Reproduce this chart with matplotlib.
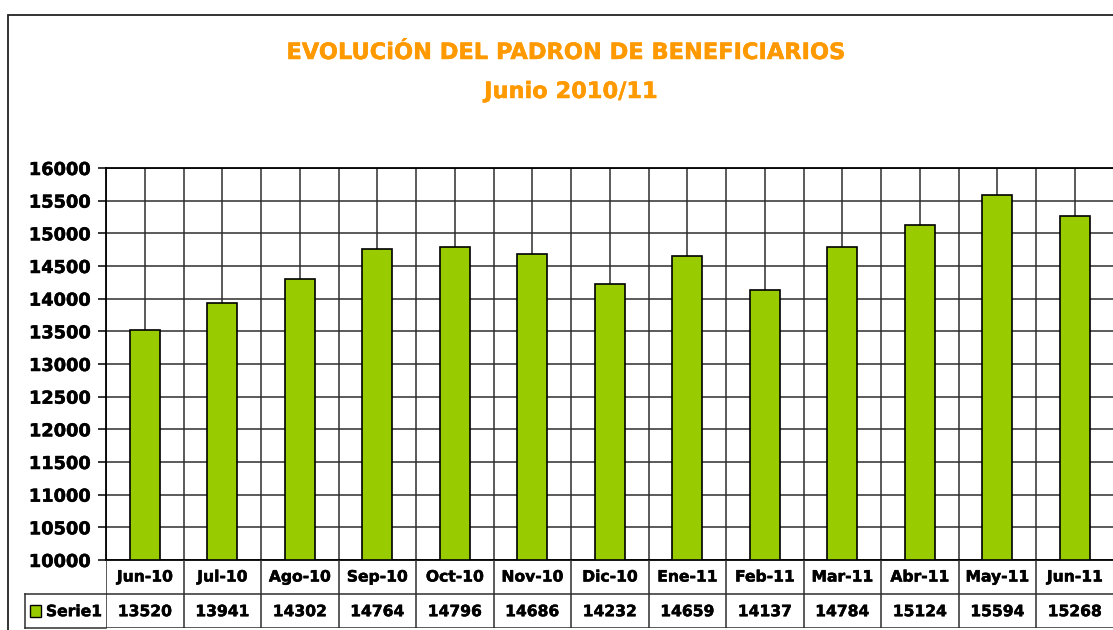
import numpy as np
import matplotlib
matplotlib.use("Agg")
import matplotlib.pyplot as plt
import matplotlib.patheffects as pe
from matplotlib.patches import Rectangle

# data
months = ["Jun-10", "Jul-10", "Ago-10", "Sep-10", "Oct-10", "Nov-10", "Dic-10",
          "Ene-11", "Feb-11", "Mar-11", "Abr-11", "May-11", "Jun-11"]
serie1 = [13520, 13941, 14302, 14764, 14796, 14686, 14232,
          14659, 14137, 14784, 15124, 15594, 15268]
yticks = list(range(10000, 16001, 500))

W, H = 1113, 630
BAR = "#99CC00"
ORANGE = "#FF9900"
GRID = "#2e2e2e"
FONT = "DejaVu Sans"

fig = plt.figure(figsize=(W / 100, H / 100), dpi=100)
fig.patch.set_facecolor("white")


def fx(px):
    return px / W


def fy(py):
    return 1 - py / H


def heavy(color):
    # thicken the bold glyphs a touch, the original looks close to Arial Black
    return [pe.withStroke(linewidth=0.35, foreground=color)]


# outer chart frame (cut off on the right and bottom in the original)
fig.patches.append(Rectangle((fx(8), -0.01), 1.2, fy(15) + 0.01, transform=fig.transFigure,
                             fill=False, edgecolor="#222222", lw=1.3))

fig.text(fx(567), fy(53), "EVOLUCiÓN DEL PADRON DE BENEFICIARIOS", color=ORANGE,
         fontsize=16.2, fontweight="bold", family=FONT, ha="center", va="center",
         path_effects=heavy(ORANGE))
fig.text(fx(571), fy(92), "Junio 2010/11", color=ORANGE,
         fontsize=16.2, fontweight="bold", family=FONT, ha="center", va="center",
         path_effects=heavy(ORANGE))

left, right = fx(106), fx(1113.5)
ax = fig.add_axes([left, fy(560), right - left, fy(168) - fy(560)])
n = len(months)
x = np.arange(n)
ax.set_xlim(-0.5, n - 0.5)
ax.set_ylim(10000, 16000)

# gridlines: horizontal every 500, vertical at centres and boundaries
for v in yticks:
    ax.axhline(v, color=GRID, lw=1.1, zorder=1)
for xi in x:
    ax.axvline(xi, color=GRID, lw=1.1, zorder=1)
for xb in np.arange(-0.5, n, 1.0):
    ax.axvline(xb, color=GRID, lw=1.1, zorder=1)

ax.bar(x, np.array(serie1) - 10000, bottom=10000, width=0.39, color=BAR,
       edgecolor="black", linewidth=1.2, zorder=3)

ax.set_yticks(yticks)
ax.set_yticklabels([str(v) for v in yticks], fontsize=12.8, fontweight="bold", family=FONT)
for t in ax.get_yticklabels():
    t.set_path_effects(heavy("black"))
ax.tick_params(axis="y", length=6, width=1.1, pad=5)
ax.set_xticks([])
ax.spines["right"].set_visible(False)
for sp in ("left", "bottom", "top"):
    ax.spines[sp].set_linewidth(1.3)

# data table below the plot
tb = fig.add_axes([left, fy(628), right - left, fy(560) - fy(628)])
tb.set_xlim(-0.5, n - 0.5)
tb.set_ylim(0, 2)
tb.axis("off")
for xb in np.arange(-0.5, n, 1.0):
    tb.plot([xb, xb], [0, 2], color=GRID, lw=1.1)
tb.plot([-0.5, n - 0.5], [1, 1], color=GRID, lw=1.1)
tb.plot([-0.5, n - 0.5], [0, 0], color=GRID, lw=1.1)
# legend cell left of the table
lx = -0.5 - (106 - 25) / 77.5
tb.plot([lx, -0.5], [1, 1], color=GRID, lw=1.1, clip_on=False)
tb.plot([lx, -0.5], [0, 0], color=GRID, lw=1.1, clip_on=False)
tb.plot([lx, lx], [0, 1], color=GRID, lw=1.1, clip_on=False)
tb.add_patch(Rectangle((lx + 0.07, 0.33), 0.13, 0.36, facecolor=BAR, edgecolor="black",
                       lw=1.0, clip_on=False))
tb.text(lx + 0.27, 0.48, "Serie1", fontsize=11.2, fontweight="bold", family=FONT,
        ha="left", va="center", path_effects=heavy("black"))
for xi, m, v in zip(x, months, serie1):
    tb.text(xi, 1.5, m, fontsize=11.2, fontweight="bold", family=FONT, ha="center",
            va="center", path_effects=heavy("black"))
    tb.text(xi, 0.48, str(v), fontsize=11.2, fontweight="bold", family=FONT, ha="center",
            va="center", path_effects=heavy("black"))

fig.savefig("out.png", dpi=100)
